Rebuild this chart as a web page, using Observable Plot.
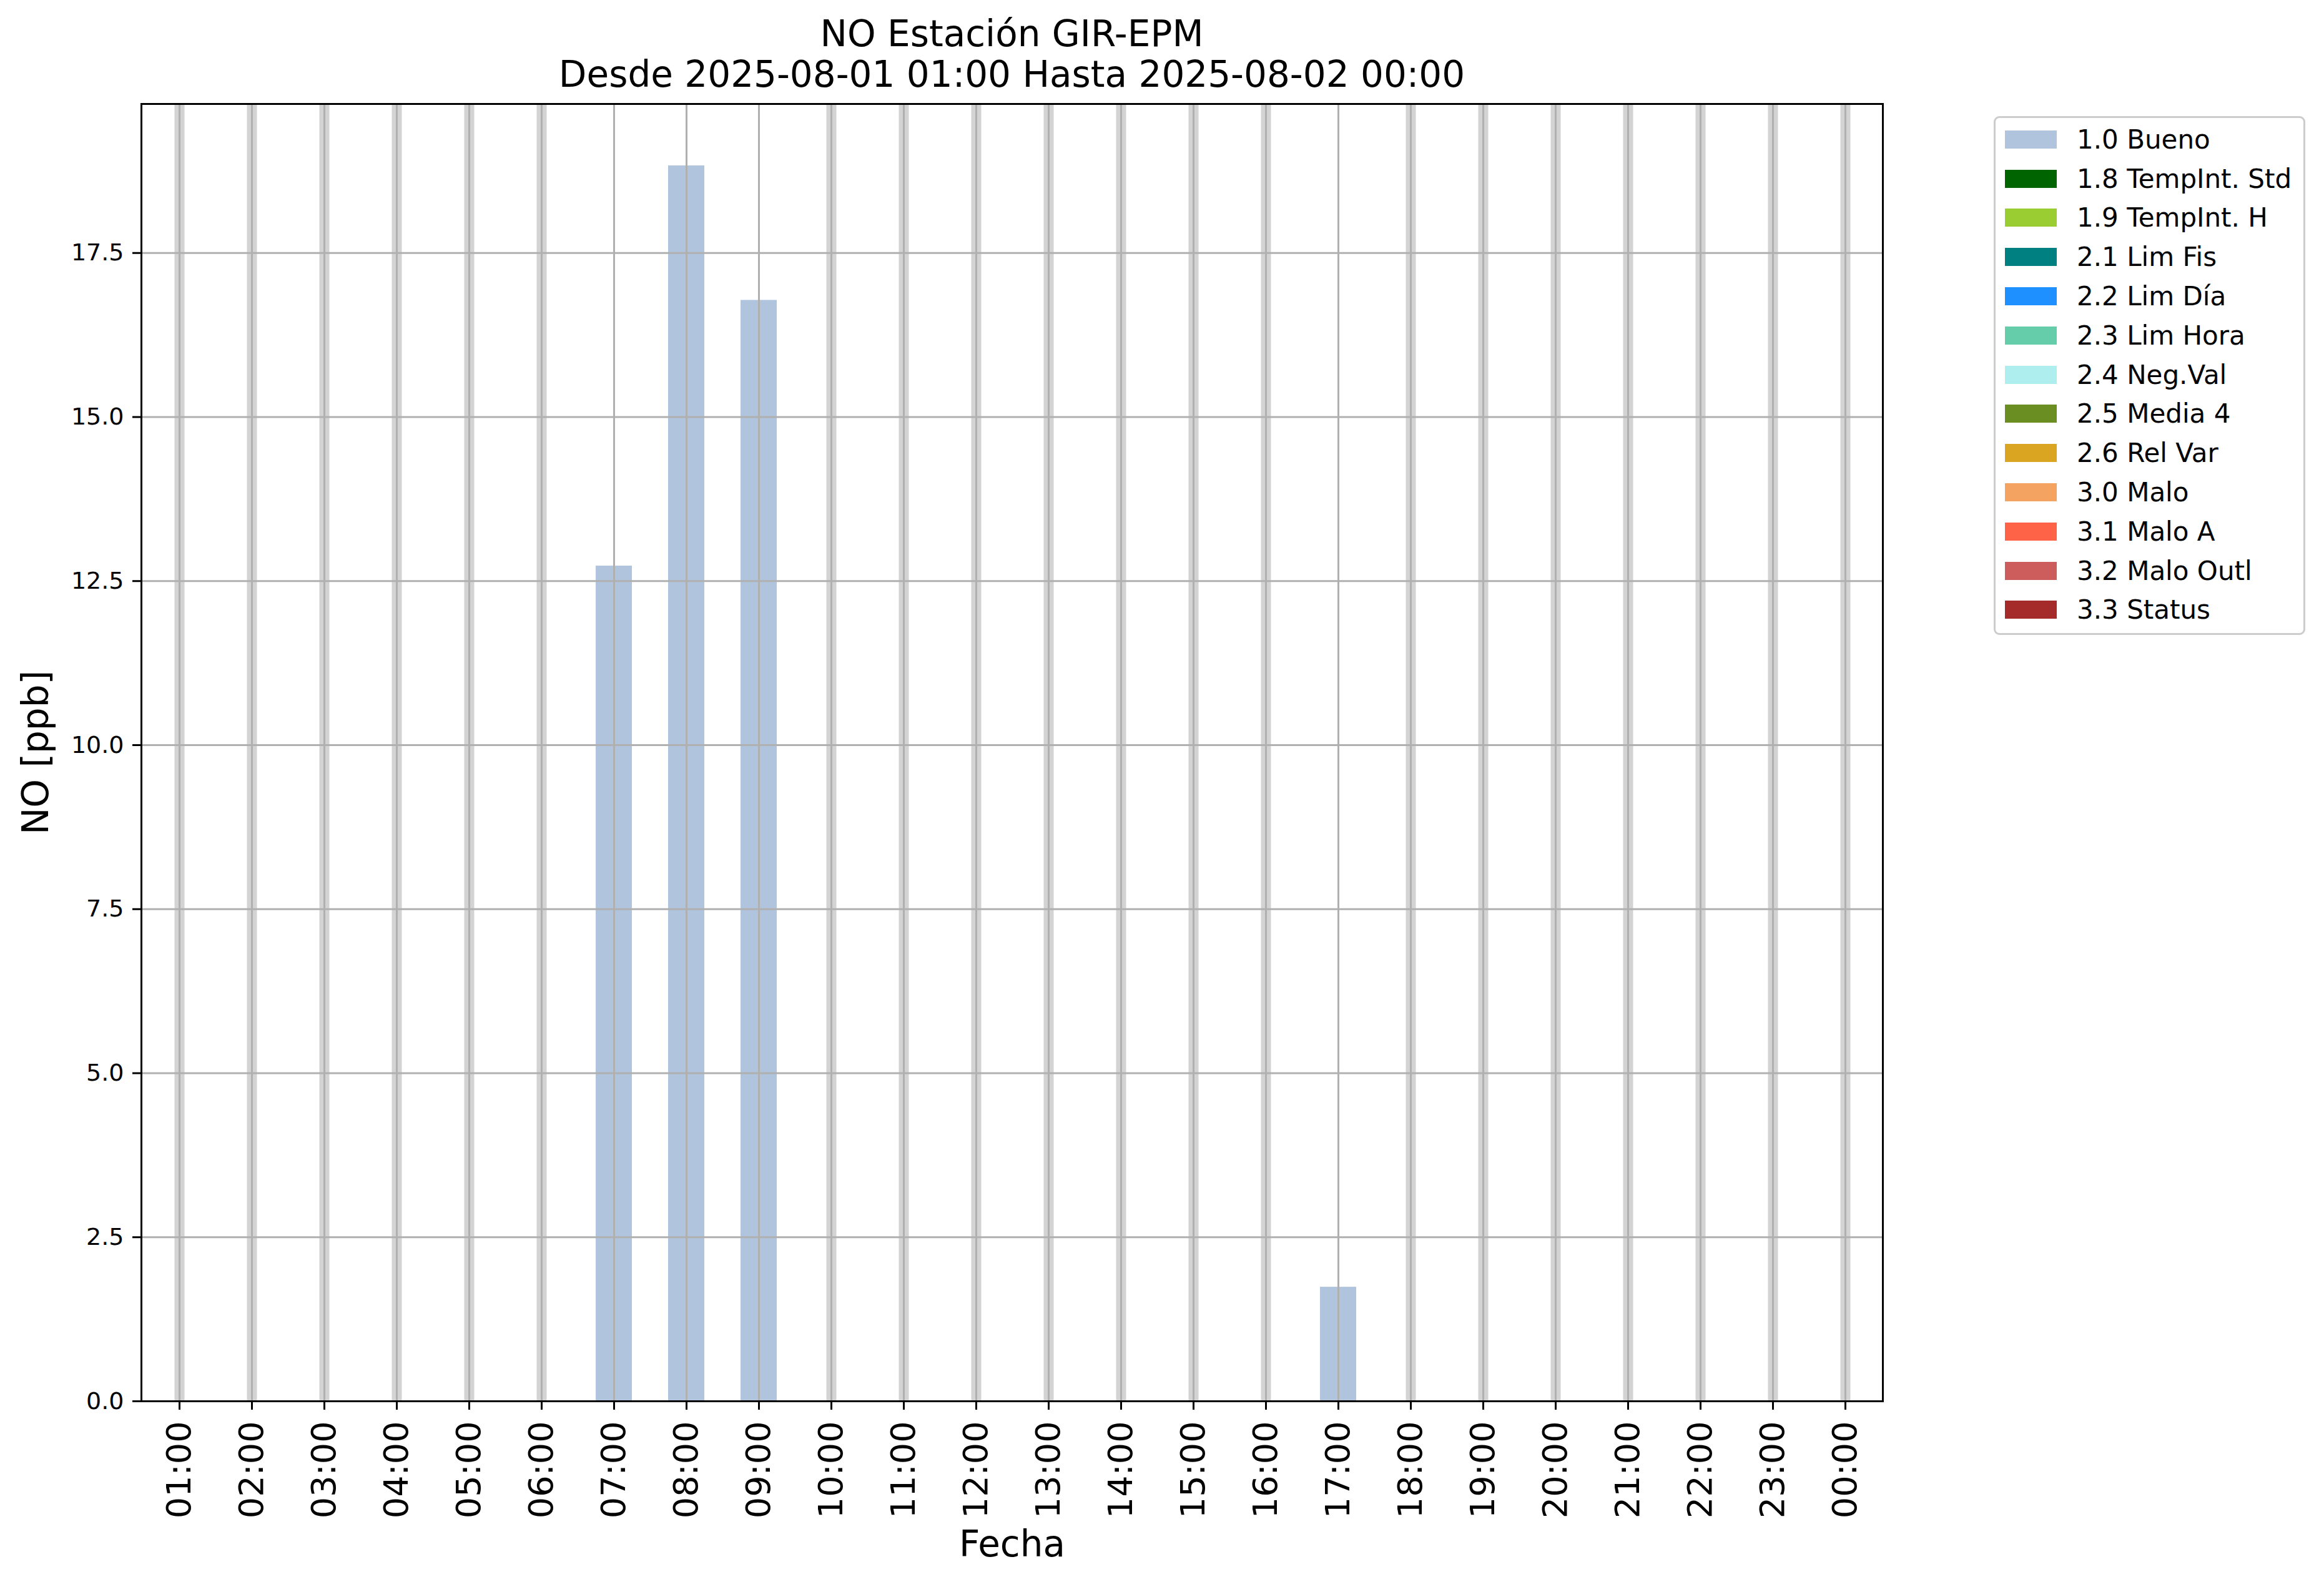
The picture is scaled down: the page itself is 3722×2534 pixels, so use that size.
<!DOCTYPE html>
<html>
<head>
<meta charset="utf-8">
<script src="https://cdn.jsdelivr.net/npm/d3@7"></script>
<script src="https://cdn.jsdelivr.net/npm/@observablehq/plot@0.6"></script>
<style>
  html, body { margin: 0; padding: 0; background: #fff; }
  body { width: 3722px; height: 2534px; position: relative; overflow: hidden; font-family: "DejaVu Sans", sans-serif; }
  #chart { position: absolute; left: 0; top: 0; }
  #title { position: absolute; left: 0; top: 22px; width: 3241px; text-align: center; font-size: 58px; line-height: 65px; color: #000; white-space: nowrap; }
  #legend { position: absolute; left: 3193px; top: 186px; width: 499px; height: 831px; box-sizing: border-box; border: 3px solid #cccccc; border-radius: 9px; background: rgba(255,255,255,0.8); padding: 3px 0 0 15px; }
  .row { height: 62.8px; display: flex; align-items: center; font-size: 42px; color: #000; white-space: nowrap; }
  .sw { width: 83px; height: 29px; margin-right: 32px; flex: none; }
</style>
</head>
<body>
<div id="chart"></div>
<div id="title"></div>
<div id="legend"></div>
<script>
const titleLines = ["NO Estación GIR-EPM", "Desde 2025-08-01 01:00 Hasta 2025-08-02 00:00"];
const xLabel = "Fecha";
const yLabel = "NO [ppb]";

const hours = ["01:00","02:00","03:00","04:00","05:00","06:00","07:00","08:00","09:00","10:00","11:00","12:00",
               "13:00","14:00","15:00","16:00","17:00","18:00","19:00","20:00","21:00","22:00","23:00","00:00"];
const values = [null, null, null, null, null, null, 12.73, 18.83, 16.78, null, null, null,
                null, null, null, null, 1.74, null, null, null, null, null, null, null];
const yTicks = [0, 2.5, 5, 7.5, 10, 12.5, 15, 17.5];

const legendLabels = ["1.0 Bueno","1.8 TempInt. Std","1.9 TempInt. H","2.1 Lim Fis","2.2 Lim Día","2.3 Lim Hora",
                      "2.4 Neg.Val","2.5 Media 4","2.6 Rel Var","3.0 Malo","3.1 Malo A","3.2 Malo Outl","3.3 Status"];
const legendColors = ["#b0c4de","#006400","#9acd32","#008080","#1e90ff","#66cdaa",
                      "#afeeee","#6b8e23","#daa520","#f4a460","#ff6347","#cd5c5c","#a52a2a"];

const table = hours.map((h, i) => ({hour: h, value: values[i]}));
const present = table.filter(d => d.value != null);
const missing = table.filter(d => d.value == null);
const yMax = d3.max(values) * 1.05;

const chart = Plot.plot({
  width: 3722,
  height: 2534,
  marginLeft: 226,
  marginRight: 707,
  marginTop: 166,
  marginBottom: 290,
  style: {fontFamily: "DejaVu Sans", background: "transparent", color: "#000"},
  x: {type: "band", domain: hours, padding: 0},
  y: {domain: [0, yMax]},
  marks: [
    Plot.ruleX(missing, {x: "hour", stroke: "#d3d3d3", strokeWidth: 16}),
    Plot.barY(present, {x: "hour", y: "value", fill: "#b0c4de", insetLeft: 29, insetRight: 29}),
    Plot.ruleX(hours, {x: d => d, stroke: "#b0b0b0", strokeWidth: 3}),
    Plot.ruleY(yTicks, {y: d => d, stroke: "#b0b0b0", strokeWidth: 3}),
    Plot.axisX({tickRotate: -90, fontSize: 54, tickSize: 14, tickPadding: 18, strokeWidth: 3, label: null}),
    Plot.axisY({ticks: yTicks, tickFormat: d3.format(".1f"), fontSize: 38, tickSize: 14, tickPadding: 14, strokeWidth: 3, label: null}),
    Plot.frame({stroke: "#000", strokeWidth: 3}),
    Plot.text([xLabel], {text: d => d, frameAnchor: "bottom", dy: 230, fontSize: 58, lineAnchor: "middle", textAnchor: "middle"}),
    Plot.text([yLabel], {text: d => d, frameAnchor: "left", dx: -168, rotate: -90, fontSize: 58, lineAnchor: "middle", textAnchor: "middle"})
  ]
});
document.getElementById("chart").appendChild(chart);

document.getElementById("title").innerHTML = titleLines.map(t => `<div>${t}</div>`).join("");
document.getElementById("legend").innerHTML = legendLabels.map((l, i) =>
  `<div class="row"><div class="sw" style="background:${legendColors[i]}"></div><span>${l}</span></div>`).join("");
</script>
</body>
</html>
